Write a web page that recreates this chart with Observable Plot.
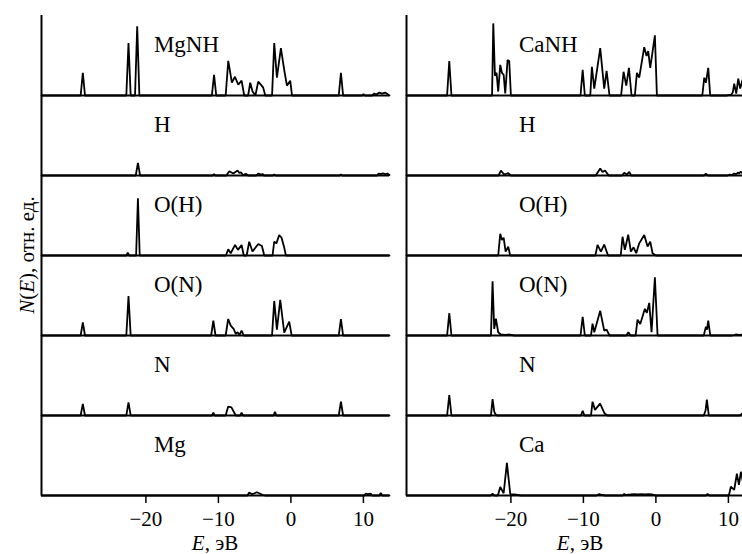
<!DOCTYPE html>
<html><head><meta charset="utf-8">
<script src="https://cdn.jsdelivr.net/npm/d3@7"></script>
<script src="https://cdn.jsdelivr.net/npm/@observablehq/plot@0.6"></script>
<style>
html,body{margin:0;padding:0;background:#fff;overflow:hidden;width:742px;height:554px;}
#wrap{position:relative;width:742px;height:554px;overflow:hidden;background:#fff;}
#left{position:absolute;left:0;top:0;width:389px;height:554px;}
#right{position:absolute;left:405px;top:0;width:349px;height:554px;}
#wrap svg{max-width:none !important;}
</style></head><body><div id="wrap"><div id="left"></div><div id="right"></div></div>
<script>
// ---- data (energy E in eV, N(E) in relative units) ----
const xDomain = [-34.4, 13.6];
const xTicks = [-20, -10, 0, 10];
const leftLabels = ["MgNH", "H", "O(H)", "O(N)", "N", "Mg"];
const rightLabels = ["CaNH", "H", "O(H)", "O(N)", "N", "Ca"];
const xLabel = "эВ";
const yLabelText = "отн. ед.";

const mgnhTotal = [[-34.4,0],[-29.0,0],[-28.7,23],[-28.4,0],
  [-22.7,0],[-22.4,53],[-22.1,0],[-21.5,0],[-21.2,70],[-20.9,0],
  [-10.9,0],[-10.6,21],[-10.3,0],
  [-9.0,0],[-8.64,35],[-8.14,13],[-7.72,19],[-7.26,11],[-6.8,15],[-6.44,0],
  [-5.9,0],[-5.61,13],[-5.29,4],[-4.9,0],[-4.51,14],[-4.14,11],[-3.82,8],[-3.54,0],
  [-2.6,0],[-2.3,53],[-1.93,18],[-1.38,48],[-0.9,25],[-0.55,10],[-0.09,15],[0.15,0],
  [6.6,0],[6.9,23],[7.2,0],
  [9.8,0],[10.0,1.5],[10.2,0],[11.2,0],[11.5,2],[11.8,1],[12.2,3],[12.6,2],[13.0,3],[13.4,1],[13.6,0]];
const mgnhH = [[-34.4,0],[-21.4,0],[-21.1,12.7],[-20.8,0],
  [-10.8,0],[-10.6,1.5],[-10.4,0],
  [-8.9,0],[-8.5,4.3],[-7.95,2],[-7.36,5],[-7.1,2.5],[-6.9,3.3],[-6.6,0.5],[-6.2,1.7],[-5.9,0],
  [-4.8,0],[-4.46,2],[-4.2,1],[-3.91,1.5],[-3.7,0],
  [-2.5,0],[-2.3,1],[-2.1,0],
  [6.7,0],[6.9,1],[7.1,0],
  [11.9,0],[12.1,2],[12.4,1.5],[12.7,2.2],[13.0,1.5],[13.3,2],[13.6,0.5]];
const mgnhOH = [[-34.4,0],[-22.7,0],[-22.5,3],[-22.3,0],[-21.35,0],[-21.1,58],[-20.85,0],
  [-8.95,0],[-8.65,6.3],[-8.3,2.3],[-7.7,10.7],[-7.3,5.7],[-6.8,10.7],[-6.5,0],[-6.1,0],[-5.75,14],[-5.3,4],[-4.5,11.7],[-4.0,9.7],[-3.67,0],
  [-2.53,0],[-2.3,14],[-2.0,12.3],[-1.61,20.7],[-1.29,18],[-0.92,8],[-0.69,0],[13.6,0]];
const mgnhON = [[-34.4,0],[-29.0,0],[-28.7,13.3],[-28.4,0],
  [-22.7,0],[-22.4,40],[-22.1,0],
  [-11.0,0],[-10.7,15],[-10.4,0],
  [-9.0,0],[-8.65,16.7],[-8.3,10],[-7.9,6.7],[-7.6,1.7],[-7.35,3.3],[-7.1,0.5],[-6.8,5],[-6.5,0],
  [-2.6,0],[-2.3,35],[-1.93,6],[-1.47,36],[-0.92,3],[-0.23,14],[0.1,0],
  [6.6,0],[6.9,16.7],[7.2,0],[13.6,0]];
const mgnhN = [[-34.4,0],[-29.0,0],[-28.7,11.7],[-28.4,0],
  [-22.7,0],[-22.4,13.3],[-22.1,0],
  [-10.9,0],[-10.7,3],[-10.5,0],
  [-9.0,0],[-8.65,9],[-8.2,8.3],[-7.9,4],[-7.6,0],[-7.0,0],[-6.8,3],[-6.6,0],
  [-2.4,0],[-2.2,3.7],[-2.0,0],
  [6.6,0],[6.9,14],[7.2,0],[13.6,0]];
const mgnhMg = [[-34.4,0],[-6.0,0],[-5.75,3],[-5.4,1.5],[-5.1,2],[-4.7,3.3],[-4.3,2],[-4.0,1],[-3.6,0],
  [10.1,0],[10.34,2],[10.6,1.5],[11.0,2],[11.2,0],[12.2,0],[12.4,2.5],[12.6,0],[13.6,0]];

const canhTotal = [[-34.4,0],[-28.8,0],[-28.5,35],[-28.2,0],
  [-22.6,0],[-22.43,73],[-22.2,20],[-21.98,23],[-21.75,4],[-21.47,31],[-21.24,23],[-21.0,21],[-20.78,2],[-20.46,36],[-20.23,35],[-20.0,0],
  [-10.4,0],[-10.1,26],[-9.8,0],
  [-9.05,0],[-8.83,29],[-8.5,7],[-7.68,48],[-7.13,7],[-6.8,25],[-6.4,0],
  [-4.8,0],[-4.46,24],[-4.09,10],[-3.72,28],[-3.36,0],
  [-2.9,0],[-2.62,23],[-2.3,18],[-1.61,49],[-1.29,40],[-1.06,45],[-0.78,28],[-0.14,61],[0.14,0],
  [6.4,0],[6.67,18],[6.9,13],[7.22,28],[7.49,0],
  [9.7,0],[10.4,1],[10.6,3],[10.8,12],[11.08,2],[11.36,17],[11.63,7],[11.95,16],[12.2,8],[12.6,0],[13.6,0]];
const canhH = [[-34.4,0],[-21.7,0],[-21.38,5],[-20.92,1],[-20.37,2.3],[-20.0,0],
  [-8.3,0],[-7.68,7],[-7.36,3.5],[-7.03,5],[-6.5,0],
  [-4.7,0],[-4.37,2.7],[-4.0,1],[-3.68,3.7],[-3.4,0],
  [6.6,0],[6.9,1.7],[7.2,0],
  [9.9,0],[10.2,1],[10.5,0.5],[10.8,2],[11.1,1.5],[11.3,3],[11.5,2],[11.7,4],[11.9,2.5],[12.1,3.5],[12.4,1],[13.6,0]];
const canhOH = [[-34.4,0],[-21.75,0],[-21.47,22],[-21.24,15.7],[-21.0,18],[-20.73,4],[-20.37,9],[-20.1,0],
  [-8.35,0],[-8.05,10.7],[-7.59,4],[-7.13,11],[-6.6,0],
  [-4.85,0],[-4.6,19],[-4.28,5.7],[-3.82,21],[-3.45,4],[-3.08,8.3],[-2.71,2.3],[-2.3,12.3],[-1.61,20.7],[-1.15,9],[-0.78,14],[-0.46,2.3],[0,0],[13.6,0]];
const canhON = [[-34.4,0],[-28.8,0],[-28.5,22.7],[-28.2,0],
  [-22.75,0],[-22.53,55],[-22.3,6.7],[-22.07,17],[-21.75,3.3],[-21.4,1],[-20.8,0.7],[-20.2,1],[-19.5,0],
  [-10.4,0],[-10.1,19],[-9.8,0],
  [-8.95,0],[-8.74,12],[-8.5,3.3],[-7.68,25],[-7.13,5],[-6.8,6],[-6.4,0],
  [-4.1,0],[-3.8,3.3],[-3.5,0],
  [-2.8,0],[-2.53,16],[-2.16,11.7],[-1.52,27],[-1.24,23],[-0.92,33],[-0.6,3.3],[-0.14,59],[0.23,0],
  [6.6,0],[6.9,9],[7.05,6],[7.22,15],[7.5,0],
  [10.5,0],[11.0,1],[11.5,0.5],[12.0,1],[13.6,0]];
const canhN = [[-34.4,0],[-28.8,0],[-28.5,20.7],[-28.2,0],
  [-22.75,0],[-22.53,16.7],[-22.3,4],[-22.1,1],[-21.9,0],
  [-10.35,0],[-10.1,4.7],[-9.85,0],
  [-8.95,0],[-8.74,14],[-8.4,5.7],[-7.7,12],[-7.1,2.3],[-6.7,0],
  [6.6,0],[6.85,5],[7.03,16],[7.3,0],
  [11.6,0],[11.9,2],[12.2,1.5],[13.6,0]];
const canhCa = [[-34.4,0],[-22.8,0],[-22.53,2],[-22.3,0],[-21.8,0],[-21.47,8.7],[-21.0,2.3],[-20.55,33],[-20.37,20.7],[-20.09,1.3],[-19.5,1],[-18.6,0],
  [-8.2,0],[-7.82,1.5],[-7.4,0.5],[-7.0,0],
  [-4.6,0],[-4.37,1.5],[-4.1,0.5],[-3.5,1],[-3.0,1.5],[-2.5,1],[-2.0,1.5],[-1.5,1],[-1.0,1.5],[-0.5,1],[0.1,0],
  [6.9,0],[7.13,1.5],[7.4,0],
  [9.9,0],[10.1,1],[10.34,9],[10.8,5.7],[11.17,22],[11.45,10.7],[11.72,24],[12.0,14],[12.3,20],[12.6,8],[13.0,12],[13.6,4]];

const leftSeries = [mgnhTotal, mgnhH, mgnhOH, mgnhON, mgnhN, mgnhMg];
const rightSeries = [canhTotal, canhH, canhOH, canhON, canhN, canhCa];

const FONT = '"Liberation Serif", serif';

function makePlot(labels, series, width, marginLeft) {
  const table = series.flatMap((s, i) => s.map(([E, N]) => ({row: i, E, N})));
  const labelRows = labels.map((name, i) => ({row: i, name}));
  return Plot.plot({
    width, height: 554,
    marginLeft, marginRight: 0, marginTop: 12, marginBottom: 57,
    style: {fontFamily: FONT, fontSize: "21px", background: "white", color: "black", overflow: "visible", maxWidth: "none"},
    x: {domain: xDomain},
    y: {domain: [0, 81], axis: null},
    fy: {domain: d3.range(6), padding: 0, axis: null},
    marks: [
      Plot.ruleY([0], {stroke: "black", strokeWidth: 2}),
      Plot.ruleX([xDomain[0]], {stroke: "black", strokeWidth: 2}),
      Plot.line(table, {x: "E", y: "N", z: "row", fy: "row", stroke: "black", strokeWidth: 1.8, strokeLinejoin: "miter"}),
      Plot.text(labelRows, {fy: "row", x: () => -18.9, y: () => 52, text: "name", textAnchor: "start", fontSize: 23, fill: "black"}),
      Plot.axisX({ticks: xTicks, tickSize: 8, tickPadding: 8, fontSize: 21, label: null, strokeWidth: 1.5})
    ]
  });
}

const leftPlot = makePlot(leftLabels, leftSeries, 389, 41);
const rightPlot = makePlot(rightLabels, rightSeries, 349, 1);
document.getElementById("left").appendChild(leftPlot);
document.getElementById("right").appendChild(rightPlot);

function addXLabel(svgNode, cx) {
  const t = d3.select(svgNode).append("text")
    .attr("x", cx).attr("y", 550).attr("text-anchor", "middle")
    .attr("font-family", FONT).attr("font-size", 21).attr("fill", "black");
  t.append("tspan").attr("font-style", "italic").text("E");
  t.append("tspan").text(", " + xLabel);
}
addXLabel(leftPlot, 215);
addXLabel(rightPlot, 175);

const yl = d3.select(leftPlot).append("text")
  .attr("transform", "translate(34,255) rotate(-90)")
  .attr("text-anchor", "middle")
  .attr("font-family", FONT).attr("font-size", 21).attr("fill", "black");
yl.append("tspan").attr("font-style", "italic").text("N");
yl.append("tspan").text("(");
yl.append("tspan").attr("font-style", "italic").text("E");
yl.append("tspan").text("), " + yLabelText);
</script>
</body></html>
